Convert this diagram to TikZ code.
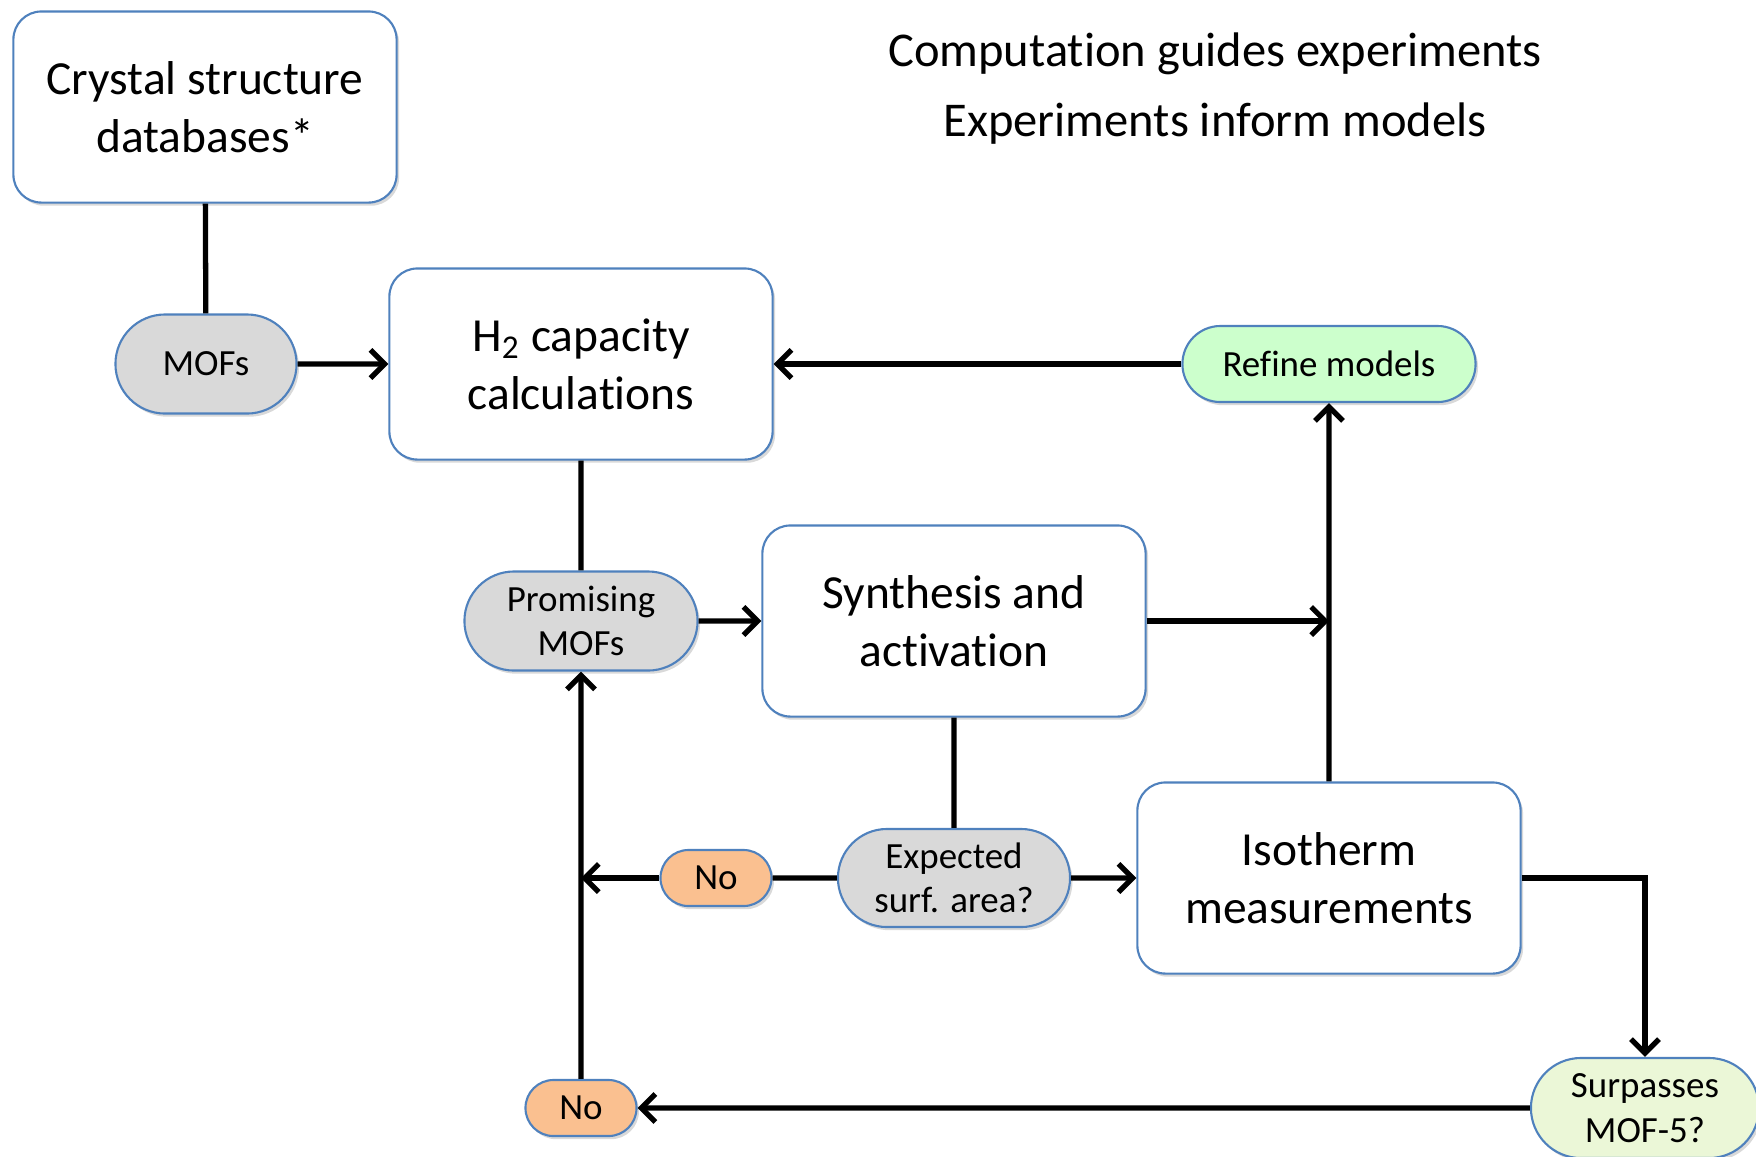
\documentclass[tikz,border=0pt]{standalone}
\usepackage{fontspec}
\setmainfont{Carlito}[Ligatures=NoCommon]
\usepackage{xcolor}
\usetikzlibrary{arrows.meta,shapes,shadows}
\definecolor{boxline}{RGB}{79,129,189}
\definecolor{mofgrey}{RGB}{217,217,217}
\definecolor{nopeach}{RGB}{250,192,144}
\definecolor{refgreen}{RGB}{204,255,204}
\definecolor{surpgreen}{RGB}{235,247,215}

\begin{document}
\begin{tikzpicture}[x=0.01cm, y=-0.01cm,
big box/.style={rectangle, rounded corners=0.28cm, draw=boxline, line width=0.6pt, fill=white, minimum width=3.83cm, minimum height=1.91cm, inner sep=0pt, align=center, font=\fontsize{13.5}{16.5}\selectfont, drop shadow={shadow xshift=0.7pt, shadow yshift=-0.9pt, opacity=0.3}},
pill/.style={rounded rectangle, draw=boxline, line width=0.6pt, inner sep=0pt, align=center, font=\fontsize{10.5}{12.6}\selectfont, drop shadow={shadow xshift=0.7pt, shadow yshift=-0.9pt, opacity=0.3}},
flow/.style={-{Straight Barb[length=4pt,width=8pt]}}]
\useasboundingbox (0,0) rectangle (1756,1156);
\node[big box] (db) at (205,107) {Crystal structure\\databases*};
\node[big box] (h2) at (581,364) {H\textsubscript{2} capacity\\calculations};
\node[big box] (syn) at (954,621) {Synthesis and\\activation};
\node[big box] (iso) at (1329,878) {Isotherm\\measurements};
\node[pill, fill=mofgrey, minimum width=1.81cm, minimum height=0.99cm] (mofs) at (206,364) {MOFs};
\node[pill, fill=mofgrey, minimum width=2.33cm, minimum height=0.99cm] (prom) at (581,621) {Promising\\MOFs};
\node[pill, fill=mofgrey, minimum width=2.32cm, minimum height=0.98cm] (exp) at (954,878) {Expected\\surf. area?};
\node[pill, fill=refgreen, minimum width=2.93cm, minimum height=0.76cm] (refine) at (1329,364) {Refine models};
\node[pill, fill=nopeach, minimum width=1.11cm, minimum height=0.56cm] (no1) at (716,878) {No};
\node[pill, fill=nopeach, minimum width=1.11cm, minimum height=0.56cm] (no2) at (581,1108) {No};
\node[pill, fill=surpgreen, minimum width=2.28cm, minimum height=1.0cm] (surp) at (1645,1108) {Surpasses\\MOF-5?};
\node[align=center, font=\fontsize{13.8}{19.9}\selectfont] (title) at (1215,89) {Computation guides experiments\\Experiments inform models};
\coordinate (j1) at (1329,621);
\coordinate (j2) at (581,878);
\path[line width=1.5pt]
(db) edge (mofs)
(h2) edge (prom)
(syn) edge (exp)
(exp) edge (no1)
(mofs) edge[flow] (h2)
(refine) edge[flow] (h2)
(prom) edge[flow] (syn)
(syn) edge[flow] (j1)
(iso) edge[flow] (refine)
(exp) edge[flow] (iso)
(no1) edge[flow] (j2)
(no2) edge[flow] (prom)
(surp) edge[flow] (no2);
\draw[line width=1.5pt, flow] (iso) -| (surp);
\end{tikzpicture}
\end{document}
